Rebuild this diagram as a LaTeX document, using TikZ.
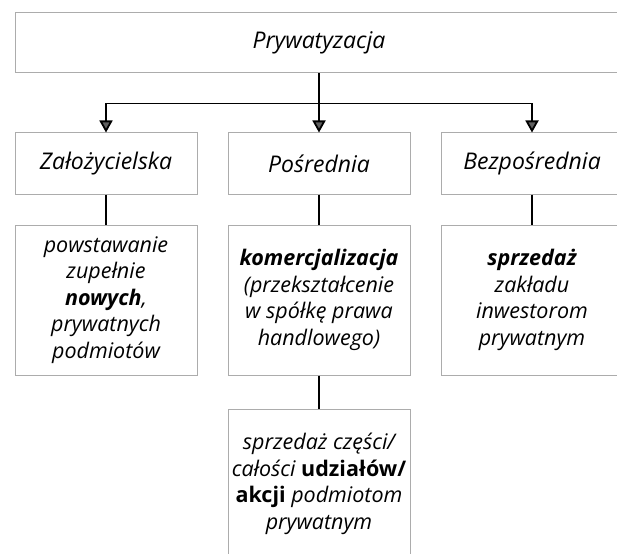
\documentclass[tikz,border=0pt]{standalone}
\usepackage{fontspec}
\setmainfont{Open Sans}
\usetikzlibrary{arrows.meta,positioning}
\begin{document}
\begin{tikzpicture}
  [x=1pt,y=1pt,
  every node/.style={font=\fontsize{21.5}{26.5}\selectfont\itshape},
  box/.style={draw=gray!65,line width=1pt,minimum width=182pt,minimum height=61pt,inner sep=0pt,align=center},
  head/.style={box,font=\fontsize{23}{26}\selectfont\itshape},
  tall/.style={box,minimum height=150pt},
  link/.style={line width=1.8pt,black},
  arr/.style={link,-{Triangle[width=13pt,length=12pt,fill=gray!75!black]}}]
  \useasboundingbox (0,0) rectangle (617,-553);
  \node[head,minimum width=608pt,minimum height=60pt] (priv) at (319,-43) {Prywatyzacja};
  \coordinate[below=30pt of priv.south] (fork);

  \node[head] (zal) at (106,-163.5) {Założycielska};
  \node[head] (pos) at (319,-163.5) {Pośrednia};
  \node[head] (bez) at (532,-163.5) {Bezpośrednia};

  \node[tall,below=30pt of zal] (nowe) {powstawanie\\ zupełnie\\ \textbf{nowych},\\ prywatnych\\ podmiotów};
  \node[tall,below=30pt of pos] (kom) {\textbf{komercjalizacja}\\ (przekształcenie\\ w spółkę prawa\\ handlowego)};
  \node[tall,below=30pt of bez] (zakl) {\textbf{sprzedaż}\\ zakładu\\ inwestorom\\ prywatnym};
  \node[tall,below=33pt of kom] (akcje) {sprzedaż części/\\ całości \textbf{\upshape udziałów/}\\ \textbf{\upshape akcji} podmiotom\\ prywatnym};

  \draw[link] (priv.south) -- (fork);
  \draw[arr] (fork) -| (zal.north);
  \draw[arr] (fork) -- (pos.north);
  \draw[arr] (fork) -| (bez.north);
  \draw[link] (zal) -- (nowe);
  \draw[link] (pos) -- (kom);
  \draw[link] (bez) -- (zakl);
  \draw[link] (kom) -- (akcje);
\end{tikzpicture}
\end{document}
